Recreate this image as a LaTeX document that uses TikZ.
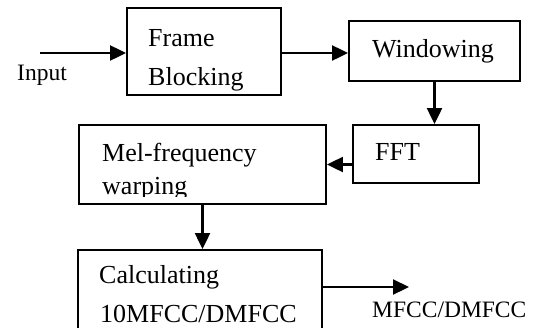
\documentclass[tikz,border=0pt]{standalone}
\usepackage{fontspec}
\setmainfont{Liberation Serif}
\usetikzlibrary{arrows.meta}
\tikzset{
  blk/.style={draw, line width=1.9pt, rectangle, inner sep=0pt},
  conn/.style={line width=2.2pt, -{Triangle[length=16pt,width=15pt]}},
  lbl/.style={inner sep=0pt, anchor=base west, font=\fontsize{26}{30}\selectfont},
  slbl/.style={inner sep=0pt, anchor=base west, font=\fontsize{23.5}{28}\selectfont},
}
\begin{document}
\begin{tikzpicture}[x=1pt,y=-1pt]
\useasboundingbox[fill=white] (0,0) rectangle (534,327);
% boxes
\node[blk, minimum width=154pt, minimum height=87pt] (frame) at (204,51.5) {};
\node[blk, minimum width=171pt, minimum height=60pt] (win) at (434.5,51) {};
\node[blk, minimum width=126pt, minimum height=58pt] (fft) at (416,154) {};
\node[blk, minimum width=247pt, minimum height=79pt] (mel) at (202.5,164.5) {};
\node[blk, minimum width=244pt, minimum height=100pt] (calc) at (200,300) {};
% labels
\node[slbl] (tin) at (17,80) {Input};
\node[lbl] (tframe) at (148,46) {Frame};
\node[lbl] (tblock) at (148,85) {Blocking};
\node[lbl] (twin) at (372,57) {Windowing};
\node[lbl] (tfft) at (375,160) {FFT};
\node[lbl] (tmel) at (102,161) {Mel-frequency};
\begin{scope}
  \clip (80,126) rectangle (325,196);
  \node[lbl] (twarp) at (102,194.5) {warping};
\end{scope}
\node[lbl] (tcalc) at (99,283) {Calculating};
\node[lbl] (tmf) at (100,322) {10MFCC/DMFCC};
\node[slbl] (tout) at (372,317) {MFCC/DMFCC};
% connectors
\coordinate (inp) at (40,53);
\coordinate (outp) at (409,287);
\draw[conn] (inp) -- (inp -| frame.west);
\draw[conn] (frame.east |- inp) -- (inp -| win.west);
\draw[conn] (win.south) -- (win.south |- fft.north);
\draw[conn] (mel.east -| fft.west) -- (mel.east);
\draw[conn] (mel.south) -- (mel.south |- calc.north);
\draw[conn] (calc.east |- outp) -- (outp);
\end{tikzpicture}
\end{document}
